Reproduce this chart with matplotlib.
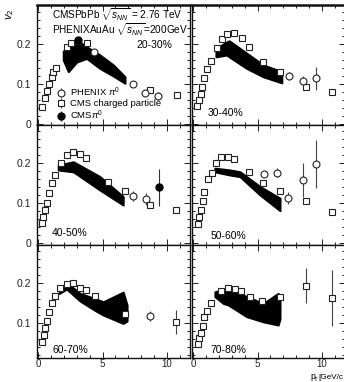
import numpy as np
import matplotlib
matplotlib.use('Agg')
import matplotlib.pyplot as plt
from matplotlib.ticker import MultipleLocator

plt.rcParams['font.family'] = ['Liberation Sans', 'DejaVu Sans']
plt.rcParams['mathtext.fontset'] = 'custom'
plt.rcParams['mathtext.rm'] = 'Liberation Sans'
plt.rcParams['mathtext.it'] = 'Liberation Sans:italic'

cents = ['20-30%', '30-40%', '40-50%', '50-60%', '60-70%', '70-80%']

# CMS charged particle (open squares)
cms_x = [
    [0.33, 0.54, 0.67, 0.85, 1.06, 1.19, 1.37, 2.22, 2.56, 3.1, 3.77, 8.68, 10.75],
    [0.34, 0.49, 0.6, 0.72, 0.88, 1.11, 1.37, 1.84, 2.22, 2.66, 3.2, 3.78, 4.37, 5.4, 6.74, 8.76, 10.8],
    [0.33, 0.41, 0.54, 0.72, 0.88, 1.06, 1.32, 1.76, 2.22, 2.74, 3.26, 3.72, 5.4, 6.74, 8.68, 10.67],
    [0.36, 0.47, 0.6, 0.75, 0.88, 1.19, 1.45, 1.78, 2.14, 2.74, 3.18, 4.37, 5.4, 6.74, 8.73, 10.75],
    [0.33, 0.44, 0.54, 0.67, 0.88, 1.06, 1.32, 1.71, 2.22, 2.74, 3.26, 3.72, 4.42, 6.74, 10.7],
    [0.41, 0.49, 0.6, 0.75, 0.88, 1.06, 1.37, 2.17, 2.69, 3.26, 3.72, 4.42, 5.37, 6.74, 8.76, 10.78],
]
cms_y = [
    [0.042, 0.066, 0.083, 0.1, 0.117, 0.131, 0.139, 0.193, 0.202, 0.207, 0.202, 0.085, 0.073],
    [0.045, 0.06, 0.074, 0.093, 0.114, 0.1375, 0.1575, 0.189, 0.2125, 0.224, 0.227, 0.216, 0.193, 0.156, 0.131, 0.092, 0.079],
    [0.049, 0.066, 0.0825, 0.101, 0.126, 0.149, 0.17, 0.2, 0.22, 0.227, 0.2225, 0.213, 0.152, 0.13, 0.095, 0.0825],
    [0.0475, 0.064, 0.0825, 0.105, 0.128, 0.159, 0.174, 0.199, 0.216, 0.216, 0.209, 0.178, 0.149, 0.131, 0.105, 0.077],
    [0.053, 0.07, 0.087, 0.105, 0.128, 0.149, 0.168, 0.187, 0.1975, 0.201, 0.188, 0.1825, 0.1675, 0.1225, 0.103],
    [0.0475, 0.062, 0.076, 0.0925, 0.114, 0.131, 0.151, 0.18, 0.188, 0.184, 0.18, 0.164, 0.156, 0.166, 0.193, 0.163],
]
cms_err = [
    [0] * 11 + [0.005, 0],
    [0] * 17,
    [0] * 16,
    [0] * 16,
    [0] * 14 + [0.03],
    [0] * 14 + [0.044, 0.07],
]

# PHENIX pi0 (open circles)
phx_x = [
    [4.37, 7.34, 8.3, 9.33],
    [7.47, 8.5, 9.5],
    [7.39, 8.35],
    [5.53, 6.49, 7.39, 8.5, 9.5],
    [8.68],
    [],
]
phx_y = [
    [0.179, 0.099, 0.078, 0.071],
    [0.12, 0.1075, 0.114],
    [0.1175, 0.11],
    [0.1725, 0.176, 0.113, 0.1575, 0.197],
    [0.1175],
    [],
]
phx_err = [
    [0.005, 0.006, 0.008, 0.01],
    [0.01, 0.012, 0.028],
    [0.012, 0.014],
    [0.004, 0.012, 0.015, 0.042, 0.06],
    [0.012],
    [],
]

# CMS pi0 (filled circles)
pi0_x = [[3.1], [], [9.4], [], [], []]
pi0_y = [[0.21], [], [0.139], [], [], []]
pi0_err = [[0], [], [0.046], [], [], []]

# black band
band_x = [
    [1.96, 2.35, 3.0, 3.77, 4.8, 5.84, 6.74],
    [1.78, 2.6, 2.81, 4.16, 5.45, 6.88],
    [1.57, 2.74, 4.8, 6.6],
    [1.7, 2.87, 3.64, 5.2, 6.74],
    [1.65, 2.22, 3.26, 4.5, 5.06, 6.6, 6.9],
    [1.7, 2.35, 2.74, 4.16, 5.45, 6.6, 6.74],
]
band_hi = [
    [0.1825, 0.189, 0.21, 0.193, 0.1725, 0.1475, 0.118],
    [0.189, 0.205, 0.208, 0.177, 0.1475, 0.131],
    [0.195, 0.203, 0.166, 0.116],
    [0.187, 0.1825, 0.178, 0.141, 0.112],
    [0.184, 0.201, 0.174, 0.16, 0.153, 0.177, 0.145],
    [0.178, 0.183, 0.187, 0.166, 0.149, 0.174, 0.155],
]
band_lo = [
    [0.16, 0.131, 0.155, 0.164, 0.139, 0.12, 0.102],
    [0.168, 0.1725, 0.168, 0.139, 0.118, 0.103],
    [0.1825, 0.178, 0.1325, 0.095],
    [0.178, 0.17, 0.166, 0.12, 0.081],
    [0.174, 0.185, 0.155, 0.13, 0.12, 0.099, 0.105],
    [0.166, 0.149, 0.145, 0.116, 0.103, 0.095, 0.11],
]

W, H = 344, 382
fig = plt.figure(figsize=(W / 100, H / 100), dpi=100)

col_x = [36.7, 191.7]
row_y = [(5, 124.5), (124.5, 244.5), (244.5, 358)]
row_zero = [124, 243, 363]
pw = 153.3

axes = []
for i in range(6):
    r, c = i // 2, i % 2
    top, bot = row_y[r]
    ax = fig.add_axes([col_x[c] / W, 1 - bot / H, pw / W, (bot - top) / H])
    z = row_zero[r]
    ax.set_ylim((z - bot) / 400, (z - top) / 400)
    ax.set_xlim(-0.1, 11.78)
    axes.append(ax)

    ax.fill_between(band_x[i], band_lo[i], band_hi[i], color='black', lw=1.5,
                    edgecolor='black', zorder=2)
    ax.errorbar(cms_x[i], cms_y[i], yerr=cms_err[i], fmt='s', mfc='white',
                mec='#222222', ms=5, mew=0.8, ecolor='#444444', elinewidth=0.8,
                zorder=3, label='CMS charged particle')
    ax.errorbar(phx_x[i], phx_y[i], yerr=phx_err[i], fmt='o', mfc='white',
                mec='#222222', ms=5, mew=0.8, ecolor='#444444', elinewidth=0.8,
                zorder=4, label=r'PHENIX $\pi^0$')
    ax.errorbar(pi0_x[i], pi0_y[i], yerr=pi0_err[i], fmt='o', mfc='black',
                mec='black', ms=5, ecolor='#333333', elinewidth=0.8,
                zorder=5, label=r'CMS$\pi^0$')

    ax.xaxis.set_major_locator(MultipleLocator(5))
    ax.xaxis.set_minor_locator(MultipleLocator(1))
    ax.yaxis.set_major_locator(MultipleLocator(0.1))
    ax.yaxis.set_minor_locator(MultipleLocator(0.02))
    ax.tick_params(which='both', direction='in', top=True, right=True,
                   labelsize=7.5, width=0.7, colors='#222222')
    ax.tick_params(which='major', length=4, pad=4)
    ax.tick_params(axis='x', which='major', pad=1.0, labelsize=7.0)
    ax.tick_params(which='minor', length=2)
    ax.yaxis.set_major_formatter(plt.FuncFormatter(lambda v, p: '0' if abs(v) < 1e-9 else f'{v:.1f}'))
    if c == 1:
        ax.tick_params(labelleft=False)
    if r < 2:
        ax.tick_params(labelbottom=False)
    for s in ax.spines.values():
        s.set_linewidth(1.0)
        s.set_color('#111111')
    if r == 0:
        ax.spines['top'].set_linewidth(1.8)

# centrality labels
lab_pos = [None, (0.106, 0.096), (0.1, 0.096), (0.12, 0.07), (0.106, 0.07), (0.12, 0.07)]
axes[0].text(0.883, 0.665, cents[0], transform=axes[0].transAxes, ha='right',
             va='center', fontsize=7.5)
for i in range(1, 6):
    axes[i].text(lab_pos[i][0], lab_pos[i][1], cents[i], transform=axes[i].transAxes,
                 ha='left', va='center', fontsize=7.5)

axes[0].text(0.1, 0.916, r'CMSPbPb $\sqrt{s_{NN}}$ = 2.76 TeV', transform=axes[0].transAxes,
             ha='left', va='center', fontsize=7.2)
axes[0].text(0.1, 0.79, r'PHENIXAuAu $\sqrt{s_{NN}}$=200GeV', transform=axes[0].transAxes,
             ha='left', va='center', fontsize=7.2)

h, l = axes[0].get_legend_handles_labels()
order = [1, 0, 2]
axes[0].legend([h[k] for k in order], [l[k] for k in order], loc='lower left',
               bbox_to_anchor=(0.13, 0.02), frameon=False, fontsize=6.8,
               labelspacing=0.05, handlelength=1.0, handletextpad=0.4,
               borderpad=0, borderaxespad=0)

fig.text(10 / W, 1 - 14 / H, r'$v_2$', rotation=90, ha='center', va='center', fontsize=8)
# x-axis title, as far as the scan shows it
fig.text(310 / W, 1 - 379 / H, 'p', ha='left', va='baseline', fontsize=6.2)
fig.text(314 / W, 1 - 381 / H, 'T', ha='left', va='baseline', fontsize=4.6)
fig.text(318 / W, 1 - 379 / H, '[GeV/c', ha='left', va='baseline', fontsize=5.9)

fig.savefig('out.png', dpi=100)
